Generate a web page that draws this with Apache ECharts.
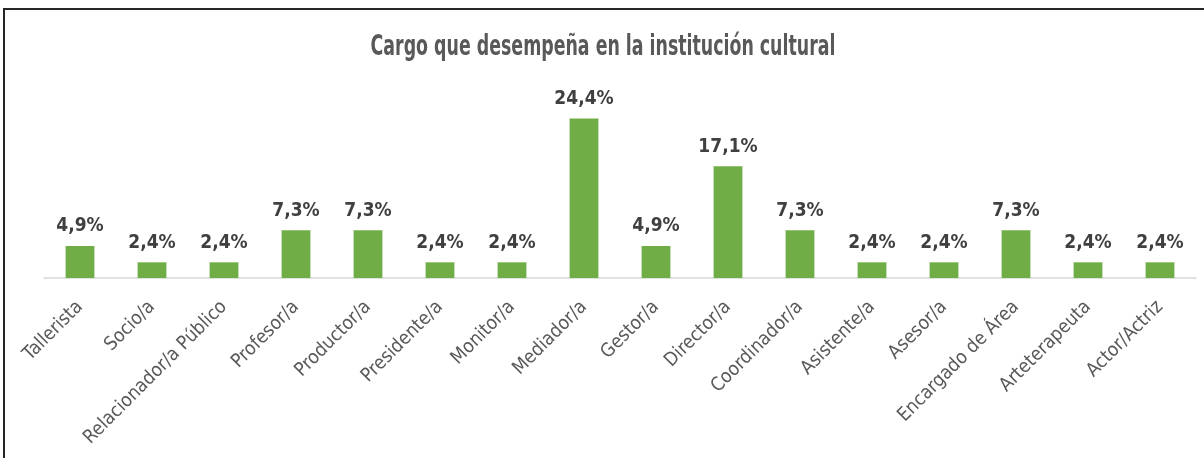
<!DOCTYPE html>
<html>
<head>
<meta charset="utf-8">
<script src="https://cdn.jsdelivr.net/npm/echarts@6/dist/echarts.min.js"></script>
<style>
  html, body { margin: 0; padding: 0; background: #fff; }
  #chart { width: 1204px; height: 458px; }
</style>
</head>
<body>
<div id="chart"></div>
<script>
// cargos y porcentajes
const cargos = [
  "Tallerista", "Socio/a", "Relacionador/a Público", "Profesor/a", "Productor/a",
  "Presidente/a", "Monitor/a", "Mediador/a", "Gestor/a", "Director/a",
  "Coordinador/a", "Asistente/a", "Asesor/a", "Encargado de Área", "Arteterapeuta",
  "Actor/Actriz"
];
const porcentajes = [4.9, 2.4, 2.4, 7.3, 7.3, 2.4, 2.4, 24.4, 4.9, 17.1, 7.3, 2.4, 2.4, 7.3, 2.4, 2.4];
const titulo = "Cargo que desempeña en la institución cultural";

const narrow = '"Liberation Sans Narrow", "DejaVu Sans Condensed", sans-serif';

const chart = echarts.init(document.getElementById("chart"));

chart.setOption({
  animation: false,
  graphic: [
    {
      // marco del grafico
      type: "rect",
      x: 4,
      y: 9,
      shape: { width: 1300, height: 500 },
      style: { fill: "none", stroke: "#262626", lineWidth: 2 },
      silent: true
    },
    {
      // titulo, comprimido para parecerse a la fuente condensada
      type: "text",
      x: 603,
      y: 48,
      scaleX: 0.69,
      style: {
        text: titulo,
        fontFamily: narrow,
        fontWeight: "bold",
        fontSize: 28,
        fill: "#595959",
        align: "center",
        verticalAlign: "middle",
        textAlign: "center",
        textVerticalAlign: "middle"
      },
      silent: true
    }
  ],
  grid: { left: 44, right: 8, top: 82, bottom: 180 },
  xAxis: {
    type: "category",
    data: cargos,
    axisLine: { lineStyle: { color: "#D9D9D9", width: 1.5 } },
    axisTick: { show: false },
    axisLabel: {
      interval: 0,
      rotate: 45,
      margin: 26,
      fontFamily: narrow,
      fontSize: 19,
      color: "#595959"
    }
  },
  yAxis: {
    type: "value",
    min: 0,
    max: 30,
    show: false
  },
  series: [
    {
      type: "bar",
      data: porcentajes,
      barCategoryGap: "60%",
      itemStyle: { color: "#70AD47" },
      label: {
        show: true,
        position: "top",
        distance: 10,
        fontFamily: narrow,
        fontWeight: "bold",
        fontSize: 19,
        color: "#404040",
        formatter: (p) => p.value.toFixed(1).replace(".", ",") + "%"
      }
    }
  ]
});
</script>
</body>
</html>
